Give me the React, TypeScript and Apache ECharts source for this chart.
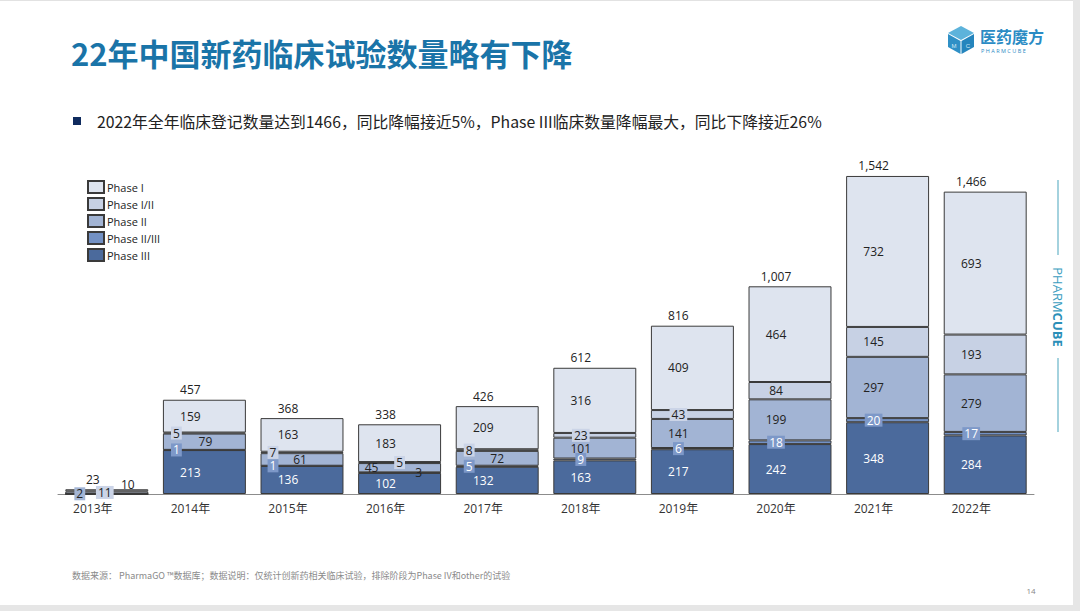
import React, { useEffect, useRef } from "react";
import * as echarts from "echarts";

const years = ["2013年", "2014年", "2015年", "2016年", "2017年", "2018年", "2019年", "2020年", "2021年", "2022年"];
const phaseIII = [0, 213, 136, 102, 132, 163, 217, 242, 348, 284];
const phaseIIIII = [0, 1, 1, 3, 5, 9, 6, 18, 20, 17];
const phaseII = [2, 79, 61, 45, 72, 101, 141, 199, 297, 279];
const phaseIII_I = [11, 5, 7, 5, 8, 23, 43, 84, 145, 193];
const phaseI = [10, 159, 163, 183, 209, 316, 409, 464, 732, 693];
const totals = [23, 457, 368, 338, 426, 612, 816, 1007, 1542, 1466];
const legendNames = ["Phase I", "Phase I/II", "Phase II", "Phase II/III", "Phase III"];

const FONT = "'Open Sans', 'Noto Sans CJK SC', sans-serif";
const CJK = "'Noto Sans CJK SC', sans-serif";
const BASE_DX = -14;

// label tweaks
type Tw = { dx?: number; dy?: number; box?: boolean; dark?: boolean };
const tweakIII: Record<number, Tw> = {};
const tweakIIIII: Record<number, Tw> = {
  1: { dx: -14, box: true },
  2: { dx: -15, box: true },
  3: { dx: 33, dark: true },
  4: { dx: -14, box: true },
  5: { box: true },
  6: { box: true },
  7: { box: true },
  8: { box: true },
  9: { box: true },
};
const tweakII: Record<number, Tw> = {
  0: { dx: -13, box: true },
  1: { dx: 15 },
  2: { dx: 12 },
  3: { dx: -14 },
  4: { dx: 14 },
};
const tweakI_II: Record<number, Tw> = {
  0: { dx: 12, box: true },
  1: { dx: -14, box: true },
  2: { dx: -15, box: true },
  3: { dx: 14, box: true },
  4: { dx: -14, box: true },
  5: { box: true },
  6: { box: true },
};
const tweakI: Record<number, Tw> = {
  0: { dx: 35, dy: -6 },
};

const colors = {
  I: "#DEE4EF",
  I_II: "#C7D1E4",
  II: "#A2B4D4",
  II_III: "#7391C4",
  III: "#4B6A9C",
};

function buildData(values: number[], tweaks: Record<number, Tw>, textColor: string, boxBg: string, boxText: string) {
  return values.map((v, i) => {
    const t = tweaks[i] || {};
    const label: any = {
      show: v > 0,
      offset: [BASE_DX + (t.dx || 0), t.dy || 0],
      color: t.dark ? "#222" : textColor,
    };
    if (t.box) {
      label.backgroundColor = boxBg;
      label.color = boxText;
      label.padding = [1, 2, 0, 2];
    }
    return { value: v, label };
  });
}

export default function App() {
  const ref = useRef<HTMLDivElement>(null);
  useEffect(() => {
    if (!ref.current) return;
    const chart = echarts.init(ref.current, undefined, { renderer: "svg" });
    const common = {
      type: "bar",
      stack: "all",
      barCategoryGap: "15%",
      label: { show: true, position: "inside", fontSize: 12, fontFamily: FONT },
      itemStyle: { borderColor: "#3a3a3a", borderWidth: 1 },
    };
    const option: any = {
      animation: false,
      backgroundColor: "#ffffff",
      textStyle: { fontFamily: FONT },
      grid: { left: 58, right: 46, top: 164, bottom: 117, containLabel: false },
      legend: {
        data: legendNames,
        orient: "vertical",
        left: 82,
        top: 175,
        itemWidth: 16,
        itemHeight: 12,
        itemGap: 3,
        icon: "rect",
        textStyle: { fontSize: 11, color: "#222", fontFamily: FONT, padding: [0, 0, 0, -2] },
      },
      xAxis: {
        type: "category",
        data: years,
        axisLine: { lineStyle: { color: "#8c8c8c", width: 1 } },
        axisTick: { show: false },
        axisLabel: { fontSize: 12, color: "#333", fontFamily: FONT, margin: 8, padding: [0, 28, 0, 0] },
      },
      yAxis: { type: "value", min: 0, max: 1600, show: false, splitLine: { show: false } },
      series: [
        {
          ...common,
          name: "Phase III",
          itemStyle: { ...common.itemStyle, color: colors.III },
          data: buildData(phaseIII, tweakIII, "#ffffff", colors.III, "#fff"),
        },
        {
          ...common,
          name: "Phase II/III",
          itemStyle: { ...common.itemStyle, color: colors.II_III },
          data: buildData(phaseIIIII, tweakIIIII, "#ffffff", "#7D98C8", "#ffffff"),
        },
        {
          ...common,
          name: "Phase II",
          itemStyle: { ...common.itemStyle, color: colors.II },
          data: buildData(phaseII, tweakII, "#222", "#A3B5D5", "#222"),
        },
        {
          ...common,
          name: "Phase I/II",
          itemStyle: { ...common.itemStyle, color: colors.I_II },
          data: buildData(phaseIII_I, tweakI_II, "#222", "#CBD4E7", "#222"),
        },
        {
          ...common,
          name: "Phase I",
          itemStyle: { ...common.itemStyle, color: colors.I },
          data: buildData(phaseI, tweakI, "#222", colors.I, "#222"),
        },
        {
          type: "bar",
          name: "total",
          barGap: "-100%",
          barCategoryGap: "15%",
          silent: true,
          z: 1,
          itemStyle: { color: "rgba(0,0,0,0)", borderWidth: 0 },
          label: {
            show: true,
            position: "top",
            distance: 4,
            fontSize: 12,
            color: "#222",
            fontFamily: FONT,
            offset: [BASE_DX, 0],
            formatter: (p: any) => Number(p.value).toLocaleString("en-US"),
          },
          data: totals,
        },
      ],
      graphic: [
        { type: "rect", shape: { x: 0, y: 0, width: 1080, height: 1 }, style: { fill: "#e2e2e2" } },
        { type: "rect", shape: { x: 1073, y: 0, width: 7, height: 611 }, style: { fill: "#e6e6e6" } },
        { type: "rect", shape: { x: 0, y: 605, width: 1080, height: 6 }, style: { fill: "#e6e6e6" } },
        {
          type: "text",
          x: 71,
          y: 37,
          style: { text: "22年中国新药临床试验数量略有下降", fontSize: 31, fontWeight: "bold", fill: "#1A74A8", fontFamily: CJK },
        },
        { type: "rect", shape: { x: 73, y: 117, width: 8, height: 8 }, style: { fill: "#0F2B5E" } },
        {
          type: "text",
          x: 97,
          y: 121,
          style: {
            text: "2022年全年临床登记数量达到1466，同比降幅接近5%，Phase III临床数量降幅最大，同比下降接近26%",
            fontSize: 15.8,
            fill: "#222",
            verticalAlign: "middle",
            fontFamily: CJK,
          },
        },
        {
          type: "text",
          x: 72,
          y: 575,
          style: {
            text: "数据来源： PharmaGO ™数据库；数据说明：仅统计创新药相关临床试验，排除阶段为Phase IV和other的试验",
            fontSize: 9,
            fill: "#8a8a8a",
            verticalAlign: "middle",
            fontFamily: CJK,
          },
        },
        { type: "text", x: 1031, y: 590, style: { text: "14", fontSize: 8, fill: "#888", align: "center", verticalAlign: "middle", fontFamily: FONT } },
        // logo cube
        { type: "polygon", shape: { points: [[961, 26], [974, 33], [961, 40], [948, 33]] }, style: { fill: "#5DB3DB" } },
        { type: "polygon", shape: { points: [[948, 34], [960.5, 41], [960.5, 54], [948, 47]] }, style: { fill: "#2F90C6" } },
        { type: "polygon", shape: { points: [[961.5, 41], [974, 34], [974, 47], [961.5, 54]] }, style: { fill: "#2585BD" } },
        { type: "text", x: 954, y: 46, style: { text: "M", fontSize: 6, fill: "#cfe8f5", align: "center", verticalAlign: "middle" } },
        { type: "text", x: 968, y: 46, style: { text: "C", fontSize: 6, fill: "#cfe8f5", align: "center", verticalAlign: "middle" } },
        { type: "text", x: 980, y: 36, style: { text: "医药魔方", fontSize: 16, fontWeight: "bold", fill: "#2A8BC4", fontFamily: CJK, verticalAlign: "middle", lineHeight: 16 } },
        { type: "text", x: 981, y: 51, style: { text: "P H A R M C U B E", fontSize: 5.5, fill: "#2A8BC4", fontFamily: FONT, verticalAlign: "middle", lineHeight: 6 } },
        // right vertical brand
        { type: "line", shape: { x1: 1058, y1: 180, x2: 1058, y2: 255 }, style: { stroke: "#86C3D3", lineWidth: 1.5 } },
        { type: "line", shape: { x1: 1058, y1: 358, x2: 1058, y2: 432 }, style: { stroke: "#86C3D3", lineWidth: 1.5 } },
        {
          type: "text",
          x: 1058,
          y: 307,
          rotation: -Math.PI / 2,
          style: {
            text: "{a|PHARM}{b|CUBE}",
            align: "center",
            verticalAlign: "middle",
            rich: {
              a: { fontSize: 13, fill: "#3A9DC0", fontFamily: FONT },
              b: { fontSize: 13, fill: "#2B8FB8", fontWeight: "bold", fontFamily: FONT },
            },
          },
        },
      ],
    };
    chart.setOption(option);
    return () => chart.dispose();
  }, []);
  return <div ref={ref} style={{ position: "fixed", left: 0, top: 0, width: 1080, height: 611 }} />;
}
